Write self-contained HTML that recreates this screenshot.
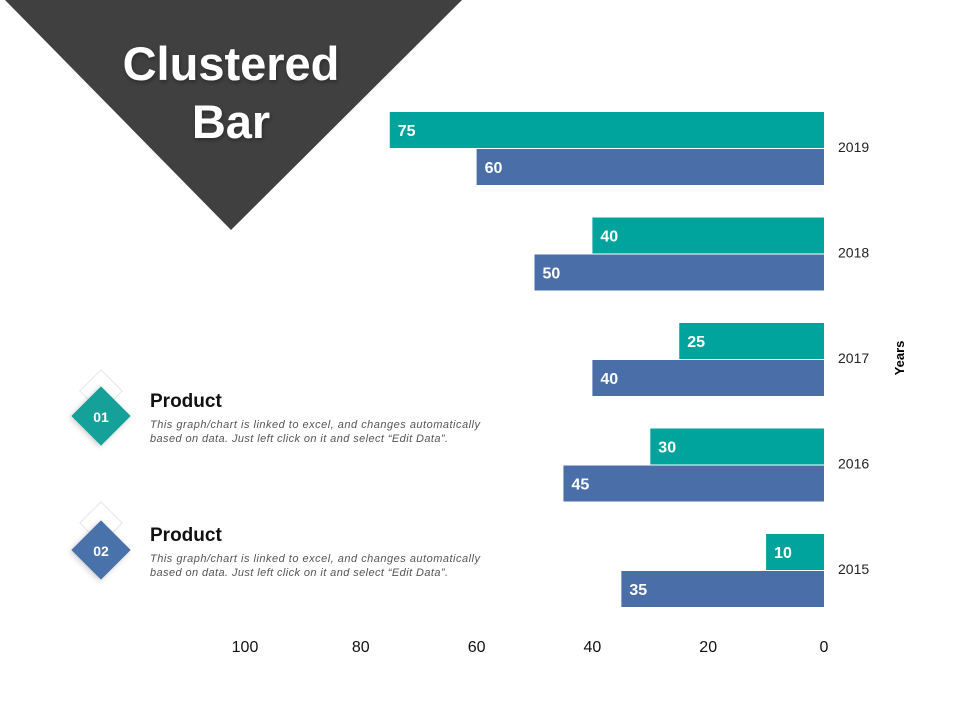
<!DOCTYPE html>
<html><head><meta charset="utf-8"><style>
body{margin:0;background:#fff;}
svg{display:block;font-family:"Liberation Sans",sans-serif;}
</style></head><body>
<svg id="c" width="960" height="720" viewBox="0 0 960 720">
<defs><filter id="sh" x="-20%" y="-20%" width="140%" height="140%"><feDropShadow dx="1" dy="2" stdDeviation="2" flood-color="#000" flood-opacity="0.35"/></filter>
<filter id="sh2" x="-30%" y="-30%" width="160%" height="160%"><feDropShadow dx="0" dy="2" stdDeviation="3" flood-color="#000" flood-opacity="0.2"/></filter></defs>
<polygon points="5,0 462,0 231,230" fill="#404040"/>
<text x="231" y="80" text-anchor="middle" font-size="47" font-weight="bold" fill="#fff" filter="url(#sh)">Clustered</text>
<text x="231" y="138" text-anchor="middle" font-size="47" font-weight="bold" fill="#fff" filter="url(#sh)">Bar</text>
<g id="bars"></g>
<g id="ticks"></g>
<text transform="translate(904,358) rotate(-90)" text-anchor="middle" font-size="13" font-weight="bold" fill="#000">Years</text>
<g>
<rect x="86" y="376" width="30" height="30" transform="rotate(45 101 391)" fill="#fff" stroke="#e6e6e6"/>
<rect x="80" y="395" width="42" height="42" transform="rotate(45 101 416)" fill="#14a09a" filter="url(#sh2)"/>
<text x="101" y="422" text-anchor="middle" font-size="14" font-weight="bold" fill="#fff">01</text>
<text x="150" y="407" font-size="19" font-weight="bold" fill="#111">Product</text>
<text x="150" y="428" font-size="11" font-style="italic" fill="#555" textLength="330">This graph/chart is linked to excel, and changes automatically</text>
<text x="150" y="442" font-size="11" font-style="italic" fill="#555" textLength="298">based on data. Just left click on it and select “Edit Data”.</text>
</g>
<g>
<rect x="86" y="508" width="30" height="30" transform="rotate(45 101 523)" fill="#fff" stroke="#e6e6e6"/>
<rect x="80" y="529" width="42" height="42" transform="rotate(45 101 550)" fill="#4a72aa" filter="url(#sh2)"/>
<text x="101" y="556" text-anchor="middle" font-size="14" font-weight="bold" fill="#fff">02</text>
<text x="150" y="541" font-size="19" font-weight="bold" fill="#111">Product</text>
<text x="150" y="562" font-size="11" font-style="italic" fill="#555" textLength="330">This graph/chart is linked to excel, and changes automatically</text>
<text x="150" y="576" font-size="11" font-style="italic" fill="#555" textLength="298">based on data. Just left click on it and select “Edit Data”.</text>
</g>
</svg>
<script>
const years = ["2019","2018","2017","2016","2015"];
const series1 = [75,40,25,30,10];
const series2 = [60,50,40,45,35];
const tickValues = [100,80,60,40,20,0];
const NS="http://www.w3.org/2000/svg";
const x0=824, pxPerUnit=5.79;
function xs(v){return x0-v*pxPerUnit;}
function yBand(i){return 112+i*105.5;}
const bars=document.getElementById('bars');
function mk(tag,attrs,parent){const e=document.createElementNS(NS,tag);for(const k in attrs)e.setAttribute(k,attrs[k]);parent.appendChild(e);return e;}
years.forEach((yr,i)=>{
  const y=yBand(i);
  [[series1,"#00a49c",0,"teal"],[series2,"#4a6fa8",37,"blue"]].forEach(([arr,col,off,nm])=>{
    const v=arr[i];
    const r=mk('rect',{x:xs(v),y:y+off,width:x0-xs(v),height:36,fill:col},bars);
    
    
    const t=mk('text',{x:xs(v)+8,y:y+off+24,'font-size':16,'font-weight':'bold',fill:'#fff'},bars);
    t.textContent=v;
    
    
  });
  const l=mk('text',{x:838,y:y+40,'font-size':14,fill:'#222'},bars);
  l.textContent=yr;
  
  
});
const tk=document.getElementById('ticks');
tickValues.forEach(v=>{
  const t=mk('text',{x:xs(v),y:652,'text-anchor':'middle','font-size':16,fill:'#111'},tk);
  t.textContent=v;
  
  
});
</script>
</body></html>
